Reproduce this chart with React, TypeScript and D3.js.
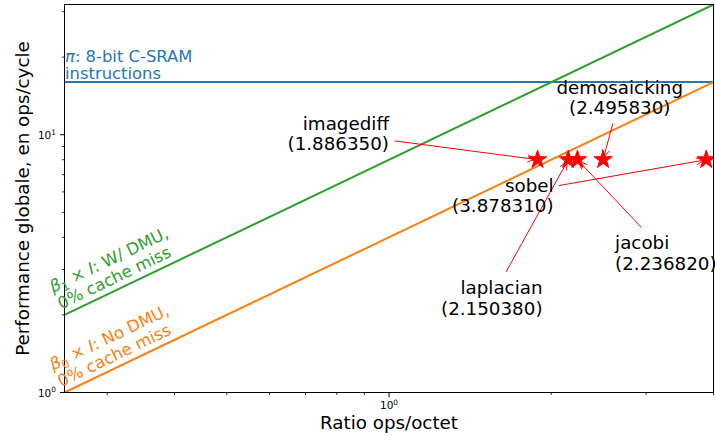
import { useLayoutEffect, useRef, useState } from 'react';
import * as d3 from 'd3';

// Roofline — 8-bit C-SRAM kernels, log/log axes.

const W = 715;
const H = 442;
const MARGIN = { top: 4.5, right: 1.5, bottom: 49.5, left: 64.5 };
const FONT = "'DejaVu Sans', sans-serif";

const X_DOMAIN = [0.25, 4];
const Y_DOMAIN = [1, 32];

const X_MAJOR = [1];
const X_MINOR = [0.3, 0.4, 0.5, 0.6, 0.7, 0.8, 0.9, 2, 3, 4];
const Y_MAJOR = [1, 10];
const Y_MINOR = [2, 3, 4, 5, 6, 7, 8, 9, 20, 30];
const X_MAJOR_EXP = ['0'];
const Y_MAJOR_EXP = ['0', '1'];

// roofs
const ROOF_X       = [0.25, 4];
const ROOF_NO_DMU  = [1, 16];
const ROOF_DMU     = [2, 32];
const PI_PEAK      = 16;

// kernels
const KERNELS   = ['imagediff', 'laplacian', 'jacobi', 'demosaicking', 'sobel'];
const INTENSITY = [1.88635, 2.15038, 2.23682, 2.49583, 3.87831];
const PERF      = [8, 8, 8, 8, 8];
const LABELS    = ['1.886350', '2.150380', '2.236820', '2.495830', '3.878310'];

// annotation text anchors (data coords), like xytext
const TEXT_X     = [1.0, 1.927, 2.627, 2.68, 2.02];
const TEXT_Y     = [10, 2.305, 3.445, 13.8, 5.75];
const TEXT_ALIGN = ['end', 'end', 'start', 'middle', 'end'];

const BLUE   = '#1f77b4';
const ORANGE = '#ff7f0e';
const GREEN  = '#2ca02c';
const RED    = '#ff0000';

const ANN_SIZE  = 18.3;
const ANN_LEAD  = 20.5;

interface Box { x: number; y: number; width: number; height: number }

export default function App() {
  const textRefs = useRef<(SVGTextElement | null)[]>([]);
  const [boxes, setBoxes] = useState<Box[]>([]);

  const x = d3.scaleLog().domain(X_DOMAIN).range([MARGIN.left, W - MARGIN.right]);
  const y = d3.scaleLog().domain(Y_DOMAIN).range([H - MARGIN.bottom, MARGIN.top]);
  const x0 = MARGIN.left, x1 = W - MARGIN.right;
  const y0 = H - MARGIN.bottom, y1 = MARGIN.top;

  useLayoutEffect(() => {
    const b = textRefs.current.map((t) => {
      if (!t) return { x: 0, y: 0, width: 0, height: 0 };
      const r = t.getBBox();
      return { x: r.x, y: r.y, width: r.width, height: r.height };
    });
    setBoxes(b);
  }, []);

  const line = d3.line<number>()
    .x((_, i) => x(ROOF_X[i]));
  const noDmuPath = line.y((v) => y(v))(ROOF_NO_DMU) ?? '';
  const dmuPath = line.y((v) => y(v))(ROOF_DMU) ?? '';

  // screen angle of the roofs
  const angle = Math.atan2(y(ROOF_NO_DMU[0]) - y(ROOF_NO_DMU[1]), x(ROOF_X[1]) - x(ROOF_X[0])) * 180 / Math.PI;

  const starR = 9.6;
  const star = d3.symbol(d3.symbolStar, (starR * starR) / 0.8908130915292852)() ?? '';

  // arrows: from text bbox centre towards the point, clipped at the padded bbox
  const arrows = boxes.map((b, i) => {
    if (!b || b.width === 0) return null;
    const cx = b.x + b.width / 2;
    const cy = b.y + b.height / 2;
    const px = x(INTENSITY[i]);
    const py = y(PERF[i]);
    const dx = px - cx, dy = py - cy;
    const len = Math.hypot(dx, dy);
    const ux = dx / len, uy = dy / len;
    const pad = 2.7;
    const hw = b.width / 2 + pad, hh = b.height / 2 + pad;
    const t = Math.min(Math.abs(dx) > 0 ? hw / Math.abs(dx) : Infinity, Math.abs(dy) > 0 ? hh / Math.abs(dy) : Infinity);
    const sx = cx + dx * t + ux * 2.7;
    const sy = cy + dy * t + uy * 2.7;
    const ex = px - ux * 2.7;
    const ey = py - uy * 2.7;
    const hl = 7.3, hwid = 3.7;
    const bx = ex - ux * hl, by = ey - uy * hl;
    const head = `M${bx - uy * hwid},${by + ux * hwid}L${ex},${ey}L${bx + uy * hwid},${by - ux * hwid}`;
    return { sx, sy, ex, ey, head };
  });

  const roofLabel = (sub: string, rest: string, color: string, base: number) => (
    <g transform={`translate(${x(ROOF_X[0])},${y(base)}) rotate(${-angle})`} fill={color} fontFamily={FONT} fontSize={16.5}>
      <text x={-0.8} y={-24.8}>
        <tspan fontStyle="italic">β</tspan>
        <tspan fontSize={11.5} dy={3.5}>{sub}</tspan>
        <tspan dy={-3.5}>{' × '}</tspan>
        <tspan fontStyle="italic">I</tspan>
        <tspan>{rest}</tspan>
      </text>
      <text x={-0.8} y={-6.5}>0% cache miss</text>
    </g>
  );

  return (
    <svg width={W} height={H} style={{ position: 'absolute', left: 0, top: 0, background: '#fff' }}>
      <defs>
        <clipPath id="plot">
          <rect x={x0} y={y1} width={x1 - x0} height={y0 - y1} />
        </clipPath>
      </defs>

      <g clipPath="url(#plot)">
        <line x1={x0} x2={x1} y1={y(PI_PEAK)} y2={y(PI_PEAK)} stroke={BLUE} strokeWidth={2} />
        <path d={dmuPath} stroke={GREEN} strokeWidth={2} fill="none" />
        <path d={noDmuPath} stroke={ORANGE} strokeWidth={2} fill="none" />
        {INTENSITY.map((v, i) => (
          <path key={KERNELS[i]} d={star} transform={`translate(${x(v)},${y(PERF[i])})`} fill={RED} stroke={RED} strokeWidth={1} />
        ))}
      </g>

      {/* spines */}
      <rect x={x0} y={y1} width={x1 - x0} height={y0 - y1} fill="none" stroke="#000" strokeWidth={1} />

      {/* x ticks */}
      {X_MINOR.map((v) => <line key={`xm${v}`} x1={x(v)} x2={x(v)} y1={y0} y2={y0 + 2.6} stroke="#000" strokeWidth={0.8} />)}
      {X_MAJOR.map((v, i) => (
        <g key={`xM${v}`}>
          <line x1={x(v)} x2={x(v)} y1={y0} y2={y0 + 4.6} stroke="#000" strokeWidth={1} />
          <text x={x(v)} y={409} textAnchor="middle" fontFamily={FONT} fontSize={10.5}>
            10<tspan fontSize={7.4} dy={-4.5}>{X_MAJOR_EXP[i]}</tspan>
          </text>
        </g>
      ))}

      {/* y ticks */}
      {Y_MINOR.map((v) => <line key={`ym${v}`} x1={x0 - 2.6} x2={x0} y1={y(v)} y2={y(v)} stroke="#000" strokeWidth={0.8} />)}
      {Y_MAJOR.map((v, i) => (
        <g key={`yM${v}`}>
          <line x1={x0 - 4.6} x2={x0} y1={y(v)} y2={y(v)} stroke="#000" strokeWidth={1} />
          <text x={56} y={y(v) + 4.3} textAnchor="end" fontFamily={FONT} fontSize={10.5}>
            10<tspan fontSize={7.4} dy={-4.5}>{Y_MAJOR_EXP[i]}</tspan>
          </text>
        </g>
      ))}

      {/* axis labels */}
      <text x={(x0 + x1) / 2} y={429} textAnchor="middle" fontFamily={FONT} fontSize={18.3}>Ratio ops/octet</text>
      <text transform={`translate(28.5,${(y0 + y1) / 2}) rotate(-90)`} textAnchor="middle" fontFamily={FONT} fontSize={18.3}>
        Performance globale, en ops/cycle
      </text>

      {/* pi label */}
      <text x={x0 + 0.5} y={y(PI_PEAK) - 20.5} fill={BLUE} fontFamily={FONT} fontSize={16.4}>
        <tspan fontStyle="italic">π</tspan>: 8-bit C-SRAM
        <tspan x={x0 + 0.5} dy={17.3}>instructions</tspan>
      </text>

      {roofLabel('1', ': W/ DMU,', GREEN, ROOF_DMU[0])}
      {roofLabel('0', ': No DMU,', ORANGE, ROOF_NO_DMU[0])}

      {/* annotation arrows */}
      {arrows.map((a, i) => a && (
        <g key={`arr${i}`} stroke={RED} strokeWidth={1} fill="none">
          <line x1={a.sx} y1={a.sy} x2={a.ex} y2={a.ey} />
          <path d={a.head} />
        </g>
      ))}

      {/* annotation texts */}
      {KERNELS.map((k, i) => {
        const tx = x(TEXT_X[i]);
        const ty = y(TEXT_Y[i]);
        return (
          <text
            key={`t${k}`}
            ref={(el) => { textRefs.current[i] = el; }}
            x={tx} y={ty - 5}
            textAnchor={TEXT_ALIGN[i]}
            fontFamily={FONT} fontSize={ANN_SIZE} fill="#000"
          >
            <tspan x={tx}>{k}</tspan>
            <tspan x={tx} dy={ANN_LEAD}>({LABELS[i]})</tspan>
          </text>
        );
      })}
    </svg>
  );
}
